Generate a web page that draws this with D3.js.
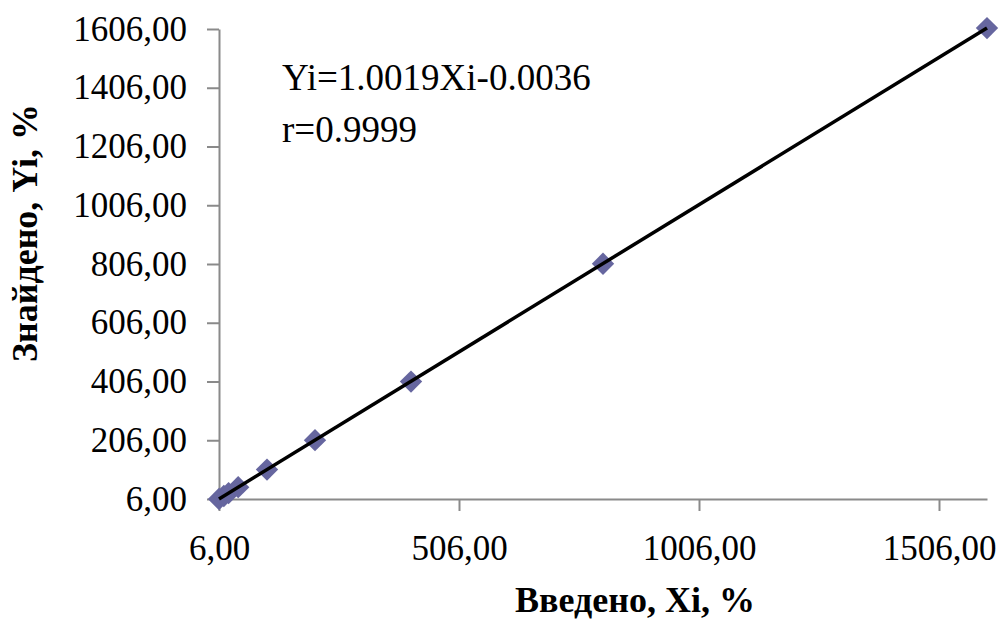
<!DOCTYPE html>
<meta charset="utf-8">
<style>
    body { margin: 0; background: #fff; }
    text { font-family: "Liberation Serif", "Times New Roman", serif; fill: #000; }
    .axis path, .axis line { stroke: #8a8a8a; stroke-width: 2px; }
    .axis text { font-size: 35px; }
    .title { font-size: 36px; font-weight: bold; }
</style>
<svg width="1001" height="635"></svg>
<script src="https://d3js.org/d3.v7.min.js"></script>
<script>
    // введено / знайдено
    const xiValues = [6, 16, 26, 46, 106, 206, 406, 806, 1606];
    const yiValues = [6.0, 16.1, 26.0, 46.2, 106.1, 206.3, 405.8, 807.0, 1609.0];
    const xTicks = [6, 506, 1006, 1506];
    const yTicks = [6, 206, 406, 606, 806, 1006, 1206, 1406, 1606];
    const slope = 1.0019, intercept = -0.0036;
    const equationLines = ["Yi=1.0019Xi-0.0036", "r=0.9999"];

    const svg = d3.select("svg");
    const fmt = d => d3.format(".2f")(d).replace(".", ",");

    const x = d3.scaleLinear().domain([6, 1606]).range([219, 987]);
    const y = d3.scaleLinear().domain([6, 1606]).range([499, 29]);

    svg.append("g")
        .attr("class", "axis")
        .attr("transform", "translate(0,499)")
        .call(d3.axisBottom(x).tickValues(xTicks).tickFormat(fmt).tickSize(12).tickSizeOuter(0).tickPadding(24))
        .call(g => g.selectAll("text").attr("font-family", "Liberation Serif").attr("fill", "#000"));

    svg.append("g")
        .attr("class", "axis")
        .attr("transform", "translate(219,0)")
        .call(d3.axisLeft(y).tickValues(yTicks).tickFormat(fmt).tickSize(12).tickSizeOuter(0).tickPadding(20))
        .call(g => g.selectAll("text").attr("font-family", "Liberation Serif").attr("fill", "#000"));

    const pts = xiValues.map((v, i) => ({ xi: v, yi: yiValues[i] }));
    svg.append("g")
        .selectAll("path")
        .data(pts)
        .enter().append("path")
        .attr("d", d3.symbol().type(d3.symbolSquare).size(250))
        .attr("transform", d => "translate(" + x(d.xi) + "," + y(d.yi) + ") rotate(45)")
        .attr("fill", "#66669f");

    // regression line, over the markers
    svg.append("line")
        .attr("x1", x(6)).attr("y1", y(slope * 6 + intercept))
        .attr("x2", x(1606)).attr("y2", y(slope * 1606 + intercept))
        .attr("stroke", "#000")
        .attr("stroke-width", 3.5);

    svg.append("g")
        .selectAll("text")
        .data(equationLines)
        .enter().append("text")
        .attr("x", 282)
        .attr("y", (d, i) => 90 + i * 52)
        .attr("font-size", 37)
        .text(d => d);

    svg.append("text")
        .attr("class", "title")
        .attr("x", 635)
        .attr("y", 612)
        .attr("text-anchor", "middle")
        .text("Введено, Xi, %");

    svg.append("text")
        .attr("class", "title")
        .attr("transform", "translate(37,233) rotate(-90)")
        .attr("text-anchor", "middle")
        .text("Знайдено, Yi, %");
</script>
